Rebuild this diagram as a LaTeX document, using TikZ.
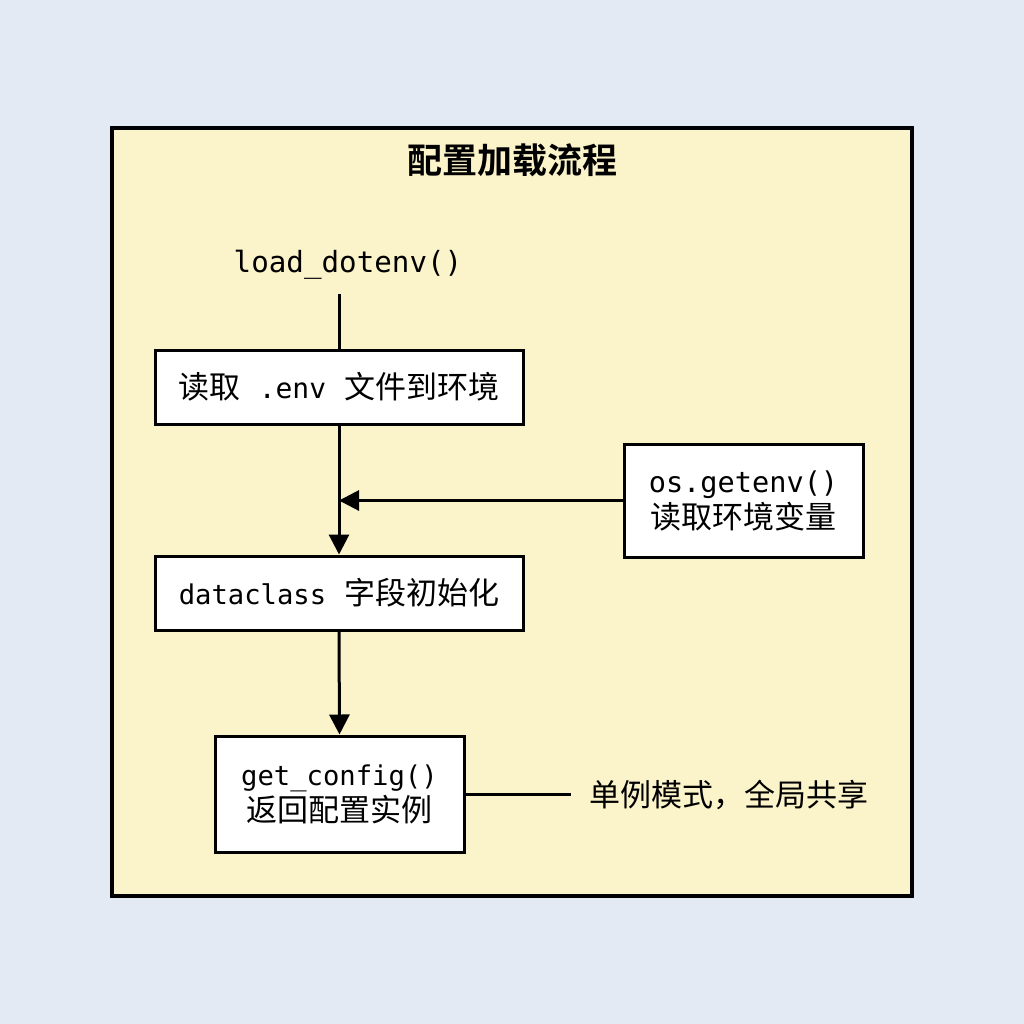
\documentclass[tikz,border=0pt]{standalone}
\usepackage{fontspec}
\setmonofont{DejaVu Sans Mono}
\newfontfamily\cjk{Noto Sans CJK SC}
\newfontfamily\cjkb{Noto Sans CJK SC Bold}
\usetikzlibrary{arrows.meta}
\definecolor{bgc}{RGB}{227,234,243}
\definecolor{framefill}{RGB}{251,243,201}
\newcommand{\mono}[2]{{\ttfamily\fontsize{#1}{19}\selectfont #2}}
\newcommand{\gap}{\hspace{9pt}}
\tikzset{
  stepbox/.style={draw=black, line width=1.5pt, fill=white, align=center,
    font=\cjk\fontsize{15.5}{18}\selectfont, inner sep=0pt},
  conn/.style={line width=1.5pt, draw=black},
  arr/.style={conn, -{Triangle[length=10pt,width=10pt]}},
  lbl/.style={font=\cjk\fontsize{15.5}{19}\selectfont, inner sep=0pt}
}
\begin{document}
\begin{tikzpicture}[x=0.5pt,y=-0.5pt]
\fill[bgc] (0,0) rectangle (1024,1024);
\useasboundingbox (0,0) rectangle (1024,1024);
\draw[line width=1.75pt, fill=framefill] (112,128) rectangle (912,896);
\node[lbl, font=\cjkb\fontsize{17.5}{20}\selectfont] (title) at (512,160) {配置加载流程};
\node[lbl, font=\ttfamily\fontsize{14.6}{17}\selectfont, inner ysep=7pt] (ld) at (348,265) {load\_dotenv()};
\node[stepbox, minimum width=184pt, minimum height=37pt] (b1) at (339,387)
  {读取\gap\mono{14}{.env}\gap 文件到环境};
\node[stepbox, minimum width=184pt, minimum height=37pt] (b2) at (339,593)
  {\mono{13.6}{dataclass}\gap 字段初始化};
\node[stepbox, minimum width=119.5pt, minimum height=56.5pt] (os) at (743.5,500.5)
  {\mono{14.3}{os.getenv()}\\读取环境变量};
\node[stepbox, minimum width=124.5pt, minimum height=58pt] (b3) at (339.5,794)
  {\mono{13.6}{get\_config()}\\返回配置实例};
\node[lbl, inner xsep=9pt] (note) at (729,795) {单例模式，全局共享};
\draw[conn] (b1.north |- ld.south) -- (b1.north);
\draw[arr] (b1.south) -- (b2.north);
\draw[arr] (os.west) -- (b1.south |- os.west);
\draw[arr] (b2.south) -- (b3.north);
\draw[conn] (b3.east) -- (b3.east -| note.west);
\end{tikzpicture}
\end{document}
